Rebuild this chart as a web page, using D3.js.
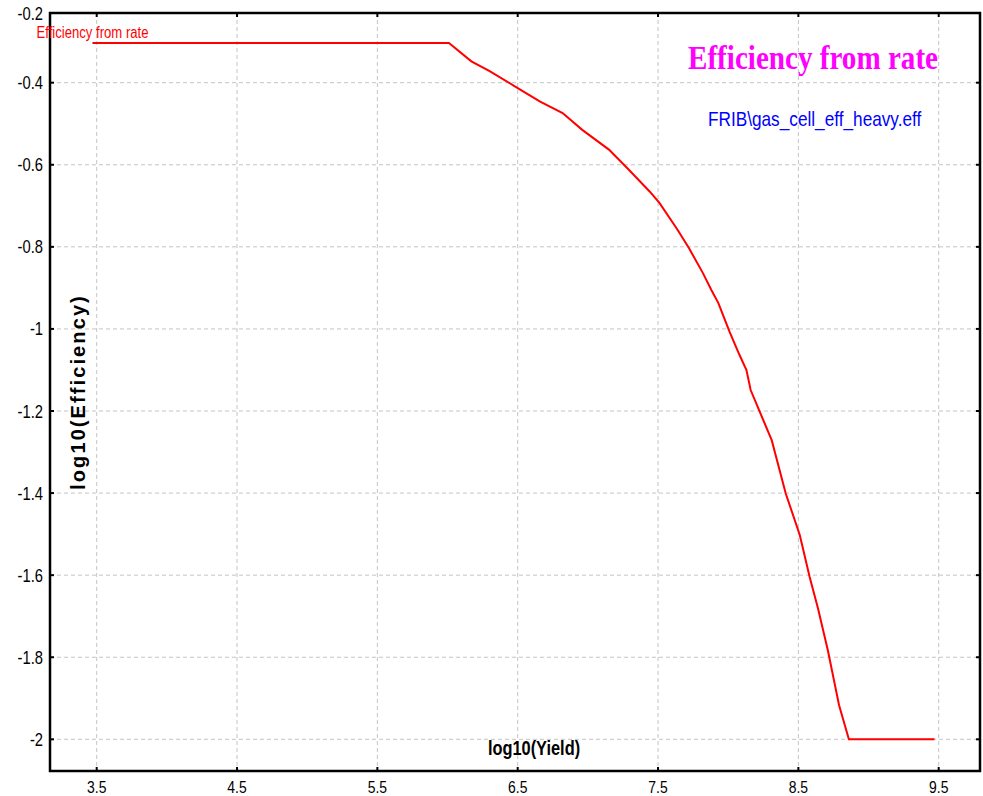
<!DOCTYPE html>
<html>
<head>
<meta charset="utf-8">
<script src="https://cdn.jsdelivr.net/npm/d3@7"></script>
<style>
  body { margin: 0; background: #fff; }
  svg { display: block; }
</style>
</head>
<body>
<div id="chart"></div>
<script>
// log10(Yield) vs log10(Efficiency)
var yieldLog = [3.47, 6.01, 6.17, 6.30, 6.50, 6.66, 6.82, 6.96, 7.15, 7.28, 7.44, 7.51, 7.64, 7.72, 7.82, 7.88,
    7.93, 8.01, 8.08, 8.13, 8.16, 8.22, 8.31, 8.41, 8.51, 8.58, 8.64, 8.71, 8.79, 8.86, 9.47];
var effLog = [-0.303, -0.303, -0.348, -0.372, -0.413, -0.446, -0.474, -0.515, -0.563, -0.608, -0.665, -0.693,
    -0.759, -0.803, -0.864, -0.905, -0.937, -1.007, -1.063, -1.100, -1.149, -1.198, -1.271, -1.401, -1.502,
    -1.604, -1.681, -1.783, -1.917, -2.0, -2.0];

var xTicks = [3.5, 4.5, 5.5, 6.5, 7.5, 8.5, 9.5];
var yTicks = [-0.2, -0.4, -0.6, -0.8, -1, -1.2, -1.4, -1.6, -1.8, -2];

var chartTitle = "Efficiency from rate";
var fileLabel = "FRIB\\gas_cell_eff_heavy.eff";
var seriesName = "Efficiency from rate";
var xTitle = "log10(Yield)";
var yTitle = "log10(Efficiency)";

var W = 983, H = 796;
var plot = { left: 50, top: 13, right: 980, bottom: 771 };
var sans = "'Liberation Sans', Arial, sans-serif";
var squeeze = 0.82; // no narrow face installed, condense by hand

var svg = d3.select("#chart")
    .append("svg")
    .attr("width", W)
    .attr("height", H);

svg.append("rect").attr("width", W).attr("height", H).attr("fill", "#fff");

var x = d3.scaleLinear()
    .domain([3.1672, 9.7943])
    .range([plot.left, plot.right]);

var y = d3.scaleLinear()
    .domain([-2.0772, -0.2302])
    .range([plot.bottom, plot.top]);

var yIn = yTicks.filter(d => y(d) > plot.top + 1);

function narrowAt(px, py) {
    return "translate(" + px + "," + py + ") scale(" + squeeze + ",1)";
}

// grid
svg.append("g")
    .selectAll("line")
    .data(xTicks)
    .join("line")
    .attr("x1", d => x(d)).attr("x2", d => x(d))
    .attr("y1", plot.top).attr("y2", plot.bottom)
    .attr("stroke", "#c4c4c4")
    .attr("stroke-dasharray", "4,3");

svg.append("g")
    .selectAll("line")
    .data(yIn)
    .join("line")
    .attr("x1", plot.left).attr("x2", plot.right)
    .attr("y1", d => y(d)).attr("y2", d => y(d))
    .attr("stroke", "#c4c4c4")
    .attr("stroke-dasharray", "4,3");

// small inner ticks
var tk = svg.append("g").attr("stroke", "#000").attr("stroke-width", 2);
tk.selectAll(".tl").data(yIn).join("line").attr("class", "tl")
    .attr("x1", plot.left).attr("x2", plot.left + 4).attr("y1", d => y(d)).attr("y2", d => y(d));
tk.selectAll(".tr").data(yIn).join("line").attr("class", "tr")
    .attr("x1", plot.right - 4).attr("x2", plot.right).attr("y1", d => y(d)).attr("y2", d => y(d));
tk.selectAll(".tt").data(xTicks).join("line").attr("class", "tt")
    .attr("x1", d => x(d)).attr("x2", d => x(d)).attr("y1", plot.top).attr("y2", plot.top + 4);
tk.selectAll(".tb").data(xTicks).join("line").attr("class", "tb")
    .attr("x1", d => x(d)).attr("x2", d => x(d)).attr("y1", plot.bottom - 4).attr("y2", plot.bottom);

// frame
svg.append("rect")
    .attr("x", plot.left)
    .attr("y", plot.top)
    .attr("width", plot.right - plot.left)
    .attr("height", plot.bottom - plot.top)
    .attr("fill", "none")
    .attr("stroke", "#000")
    .attr("stroke-width", 2.5);

// tick labels
svg.append("g")
    .selectAll("text")
    .data(xTicks)
    .join("text")
    .attr("transform", d => narrowAt(x(d), 793))
    .attr("text-anchor", "middle")
    .attr("font-family", sans)
    .attr("font-size", 17)
    .attr("fill", "#000")
    .text(d => d3.format(".1f")(d));

svg.append("g")
    .selectAll("text")
    .data(yTicks)
    .join("text")
    .attr("transform", d => narrowAt(43, Math.max(y(d), plot.top) + 6.5))
    .attr("text-anchor", "end")
    .attr("font-family", sans)
    .attr("font-size", 18)
    .attr("fill", "#000")
    .text(d => String(d));

// the curve
var data = yieldLog.map((v, i) => ({ x: v, y: effLog[i] }));
var line = d3.line()
    .x(d => x(d.x))
    .y(d => y(d.y));

svg.append("path")
    .datum(data)
    .attr("fill", "none")
    .attr("stroke", "#ff0000")
    .attr("stroke-width", 2)
    .attr("d", line);

// texts
svg.append("text")
    .attr("transform", narrowAt(36.5, 37.5))
    .attr("font-family", sans)
    .attr("font-size", 16)
    .attr("fill", "#ff0000")
    .text(seriesName);

svg.append("text")
    .attr("x", 938)
    .attr("y", 69)
    .attr("text-anchor", "end")
    .attr("font-family", "'Liberation Serif', 'Times New Roman', serif")
    .attr("font-weight", "bold")
    .attr("font-size", 34)
    .attr("textLength", 250)
    .attr("lengthAdjust", "spacingAndGlyphs")
    .attr("fill", "#ff00ff")
    .text(chartTitle);

svg.append("text")
    .attr("transform", narrowAt(708, 126))
    .attr("font-family", sans)
    .attr("font-size", 21)
    .attr("fill", "#0000ff")
    .text(fileLabel);

svg.append("text")
    .attr("transform", narrowAt(534, 755))
    .attr("text-anchor", "middle")
    .attr("font-family", sans)
    .attr("font-weight", "bold")
    .attr("font-size", 20)
    .attr("fill", "#000")
    .text(xTitle);

svg.append("text")
    .attr("transform", "translate(85,392) rotate(-90)")
    .attr("text-anchor", "middle")
    .attr("font-family", sans)
    .attr("font-weight", "bold")
    .attr("font-size", 20)
    .attr("letter-spacing", 2.1)
    .attr("fill", "#000")
    .text(yTitle);
</script>
</body>
</html>
